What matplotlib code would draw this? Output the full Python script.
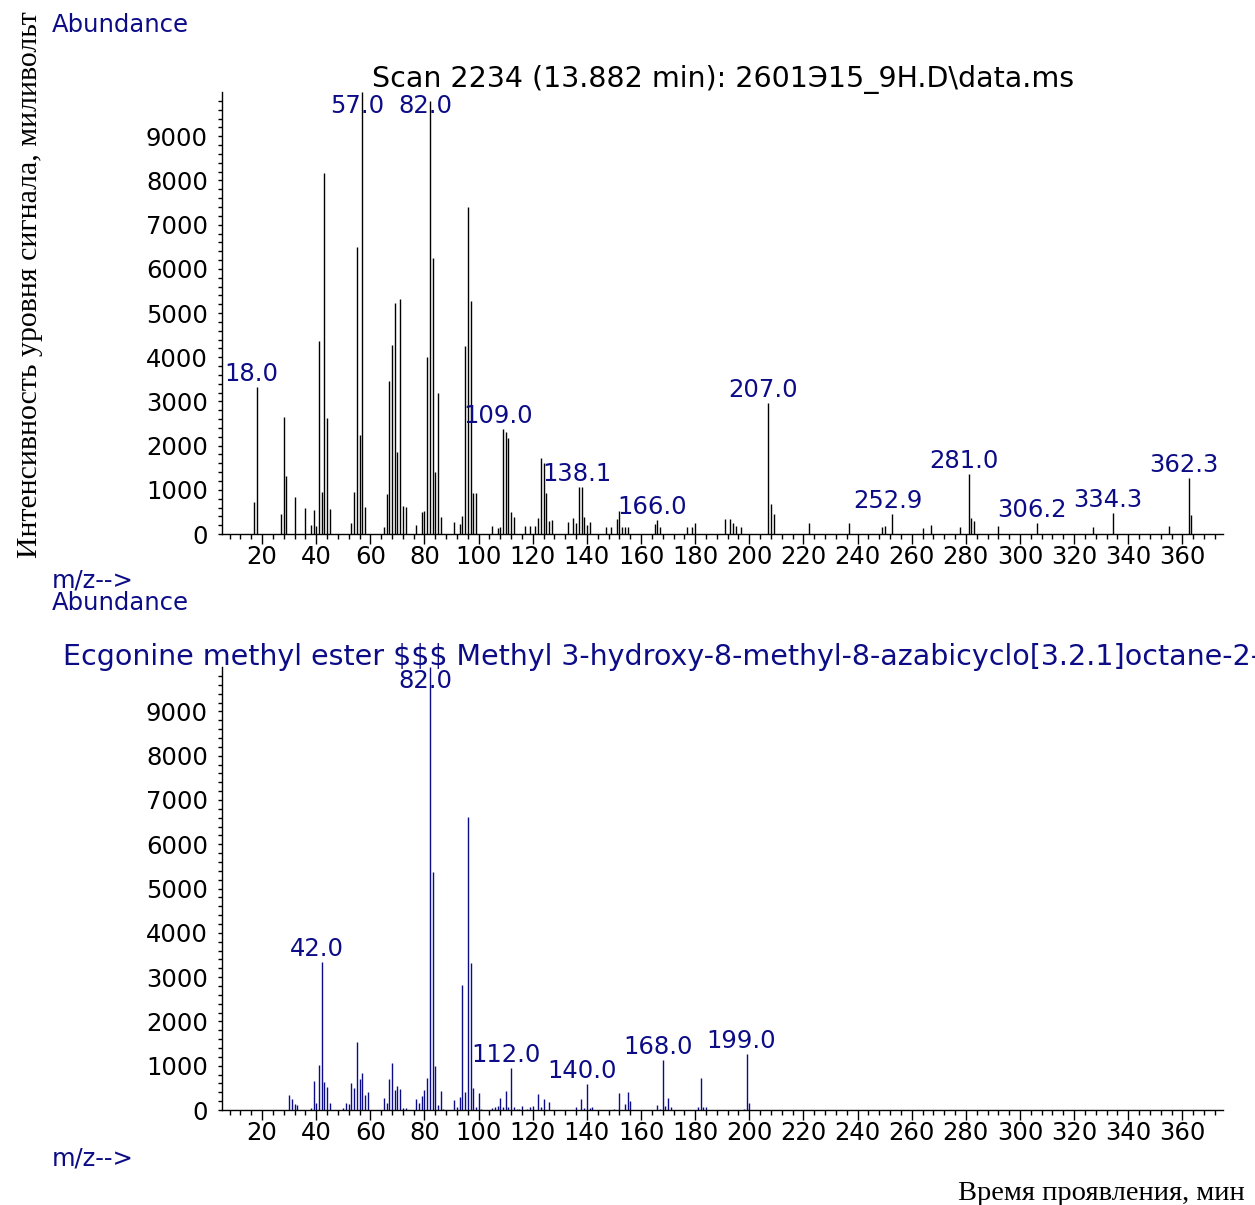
import matplotlib
matplotlib.use("Agg")
import matplotlib.pyplot as plt
from matplotlib.ticker import MultipleLocator, FixedLocator

# --- scan 2234 (top spectrum) ---
scan_mz = [17, 18, 27, 28, 29, 32, 36, 38, 39, 40, 41, 42, 43, 44, 45,
           53, 54, 55, 56, 57, 58, 65, 66, 67, 68, 69, 70, 71, 72, 73,
           77, 79, 80, 81, 82, 83, 84, 85, 86, 91, 93, 94, 95, 96, 97, 98, 99,
           105, 107, 108, 109, 110, 111, 112, 113, 117, 119, 121, 122, 123, 124,
           125, 126, 127, 133, 135, 136, 137, 138.1, 139, 140, 141, 147, 149,
           151, 152, 153, 154, 155, 165, 166, 167, 177, 179, 180, 191, 193, 194,
           195, 197, 207, 208, 209, 222, 237, 249, 250, 252.9, 264, 267, 278,
           281, 282, 283, 292, 306.2, 327, 334.3, 355, 362.3, 363]
scan_ab = [716, 3333, 452, 2640, 1320, 845, 588, 204, 550, 190, 4374, 943, 8167, 2624, 566,
           256, 943, 6486, 2247, 10000, 618, 166, 905, 3469, 4284, 5226, 1863, 5324, 641, 603,
           204, 490, 513, 4012, 9800, 6244, 1395, 3190, 392, 279, 226, 415, 4261, 7406, 5279, 920, 920,
           173, 136, 166, 2376, 2315, 2172, 505, 392, 173, 189, 189, 354, 1719, 1606,
           927, 302, 324, 264, 354, 241, 1071, 1071, 392, 204, 264, 151, 151,
           339, 528, 166, 166, 166, 226, 317, 151, 166, 166, 249, 333, 333, 250,
           182, 152, 2970, 682, 455, 242, 242, 152, 182, 447, 136, 212, 152,
           1356, 356, 288, 182, 250, 167, 485, 182, 1273, 439]
scan_labels = [18.0, 57.0, 82.0, 109.0, 138.1, 166.0, 207.0, 252.9, 281.0, 306.2, 334.3, 362.3]

# --- library spectrum (bottom) ---
lib_mz = [30, 31, 32, 33, 38, 39, 40, 41, 42, 43, 44, 45, 50, 51, 52, 53, 54, 55, 56, 57,
          58, 59, 65, 66, 67, 68, 69, 70, 71, 72, 73, 77, 78, 79, 80, 81, 82, 83, 84, 85,
          86, 87, 91, 92, 93, 94, 95, 96, 97, 98, 99, 100, 101, 105, 106, 107, 108, 109,
          110, 111, 112, 113, 114, 115, 116, 118, 119, 120, 122, 123, 124, 126, 136, 138,
          139, 140, 141, 142, 150, 152, 154, 155, 156, 166, 167, 168, 169, 170, 171, 181,
          182, 183, 184, 198, 199, 200]
lib_ab = [340, 242, 136, 113, 38, 658, 166, 1020, 3348, 643, 514, 151, 38, 151, 128, 605, 491, 1527, 700, 830,
          340, 400, 265, 151, 695, 1073, 453, 544, 476, 38, 53, 250, 151, 317, 453, 733, 10000, 5367, 998, 113,
          431, 23, 227, 76, 287, 2834, 400, 6614, 3326, 491, 76, 378, 23, 38, 60, 83, 265, 60,
          431, 60, 952, 60, 23, 23, 83, 23, 60, 98, 363, 60, 242, 189, 76, 249,
          45, 582, 45, 60, 15, 385, 136, 416, 212, 121, 23, 1134, 98, 265, 60, 76,
          726, 60, 76, 23, 1255, 151]
lib_labels = [42.0, 82.0, 112.0, 140.0, 168.0, 199.0]

scan_title = r"Scan 2234 (13.882 min): 2601Э15_9H.D\data.ms"
lib_title = (r"Ecgonine methyl ester \$\$\$ Methyl 3-hydroxy-8-methyl-8-"
             r"azabicyclo[3.2.1]octane-2-carboxylate")

BLUE = "#0c0c86"
SANS = "DejaVu Sans"
FS = 17.5
TITLE_FS = 20.5

fig = plt.figure(figsize=(12.55, 12.05), dpi=100)
fig.patch.set_facecolor("white")


def spectrum(rect, mz, ab, labels, line_color):
    ax = fig.add_axes(rect)
    ax.vlines(mz, 0, ab, colors=line_color, linewidth=1.0)
    ax.set_xlim(5.1, 375)
    ax.set_ylim(0, 10000)
    for s in ("top", "right"):
        ax.spines[s].set_visible(False)
    ax.spines["left"].set_linewidth(1.0)
    ax.spines["bottom"].set_linewidth(1.0)
    ax.xaxis.set_major_locator(MultipleLocator(20))
    ax.xaxis.set_minor_locator(MultipleLocator(4))
    ax.set_xticks(range(20, 361, 20))
    ax.yaxis.set_major_locator(FixedLocator(range(0, 10000, 1000)))
    ax.yaxis.set_minor_locator(FixedLocator(range(0, 10000, 200)))
    ax.tick_params(axis="x", which="major", direction="out", length=7, width=1,
                   pad=1, labelsize=FS)
    ax.tick_params(axis="x", which="minor", direction="out", length=3.6, width=1)
    ax.tick_params(axis="y", which="both", direction="out", length=3, width=1,
                   pad=7, labelsize=FS)
    for t in ax.get_xticklabels() + ax.get_yticklabels():
        t.set_family(SANS)
    # peak annotations
    for m in labels:
        i = min(range(len(mz)), key=lambda k: abs(mz[k] - m))
        h = ab[i]
        if h > 9500:
            ax.annotate(f"{m:.1f}", (m, 10000), xytext=(-5, -2),
                        textcoords="offset pixels", ha="center", va="top",
                        color=BLUE, fontsize=FS, family=SANS, annotation_clip=False)
        else:
            ax.annotate(f"{m:.1f}", (m, h), xytext=(-5, 1),
                        textcoords="offset pixels", ha="center", va="bottom",
                        color=BLUE, fontsize=FS, family=SANS, annotation_clip=False)
    return ax


ax_top = spectrum([0.1767, 0.5568, 0.7978, 0.3668], scan_mz, scan_ab, scan_labels, "black")
ax_bot = spectrum([0.1767, 0.0788, 0.7978, 0.3676], lib_mz, lib_ab, lib_labels, BLUE)

# headers and axis captions
fig.text(723 / 1255, 1 - 80 / 1205, scan_title, ha="center", va="center",
         fontsize=TITLE_FS, family=SANS, color="black")
fig.text(63 / 1255, 1 - 657 / 1205, lib_title, ha="left", va="center",
         fontsize=TITLE_FS, family=SANS, color=BLUE)
fig.text(52 / 1255, 1 - 25 / 1205, "Abundance", ha="left", va="center",
         fontsize=FS, family=SANS, color=BLUE)
fig.text(52 / 1255, 1 - 592 / 1205, "m/z-->\nAbundance", ha="left", va="center",
         fontsize=FS, family=SANS, color=BLUE, linespacing=0.9)
fig.text(52 / 1255, 1 - 1158 / 1205, "m/z-->", ha="left", va="center",
         fontsize=FS, family=SANS, color=BLUE)

fig.text(30 / 1255, 1 - 285 / 1205, "Интенсивность уровня сигнала, миливольт",
         rotation=90, ha="center", va="center", fontsize=21.5,
         family="Liberation Serif", color="black")
fig.text(1245 / 1255, 1 - 1193 / 1205, "Время проявления, мин", ha="right",
         va="center", fontsize=20.5, family="Liberation Serif", color="black")

fig.savefig("out.png", dpi=100)
